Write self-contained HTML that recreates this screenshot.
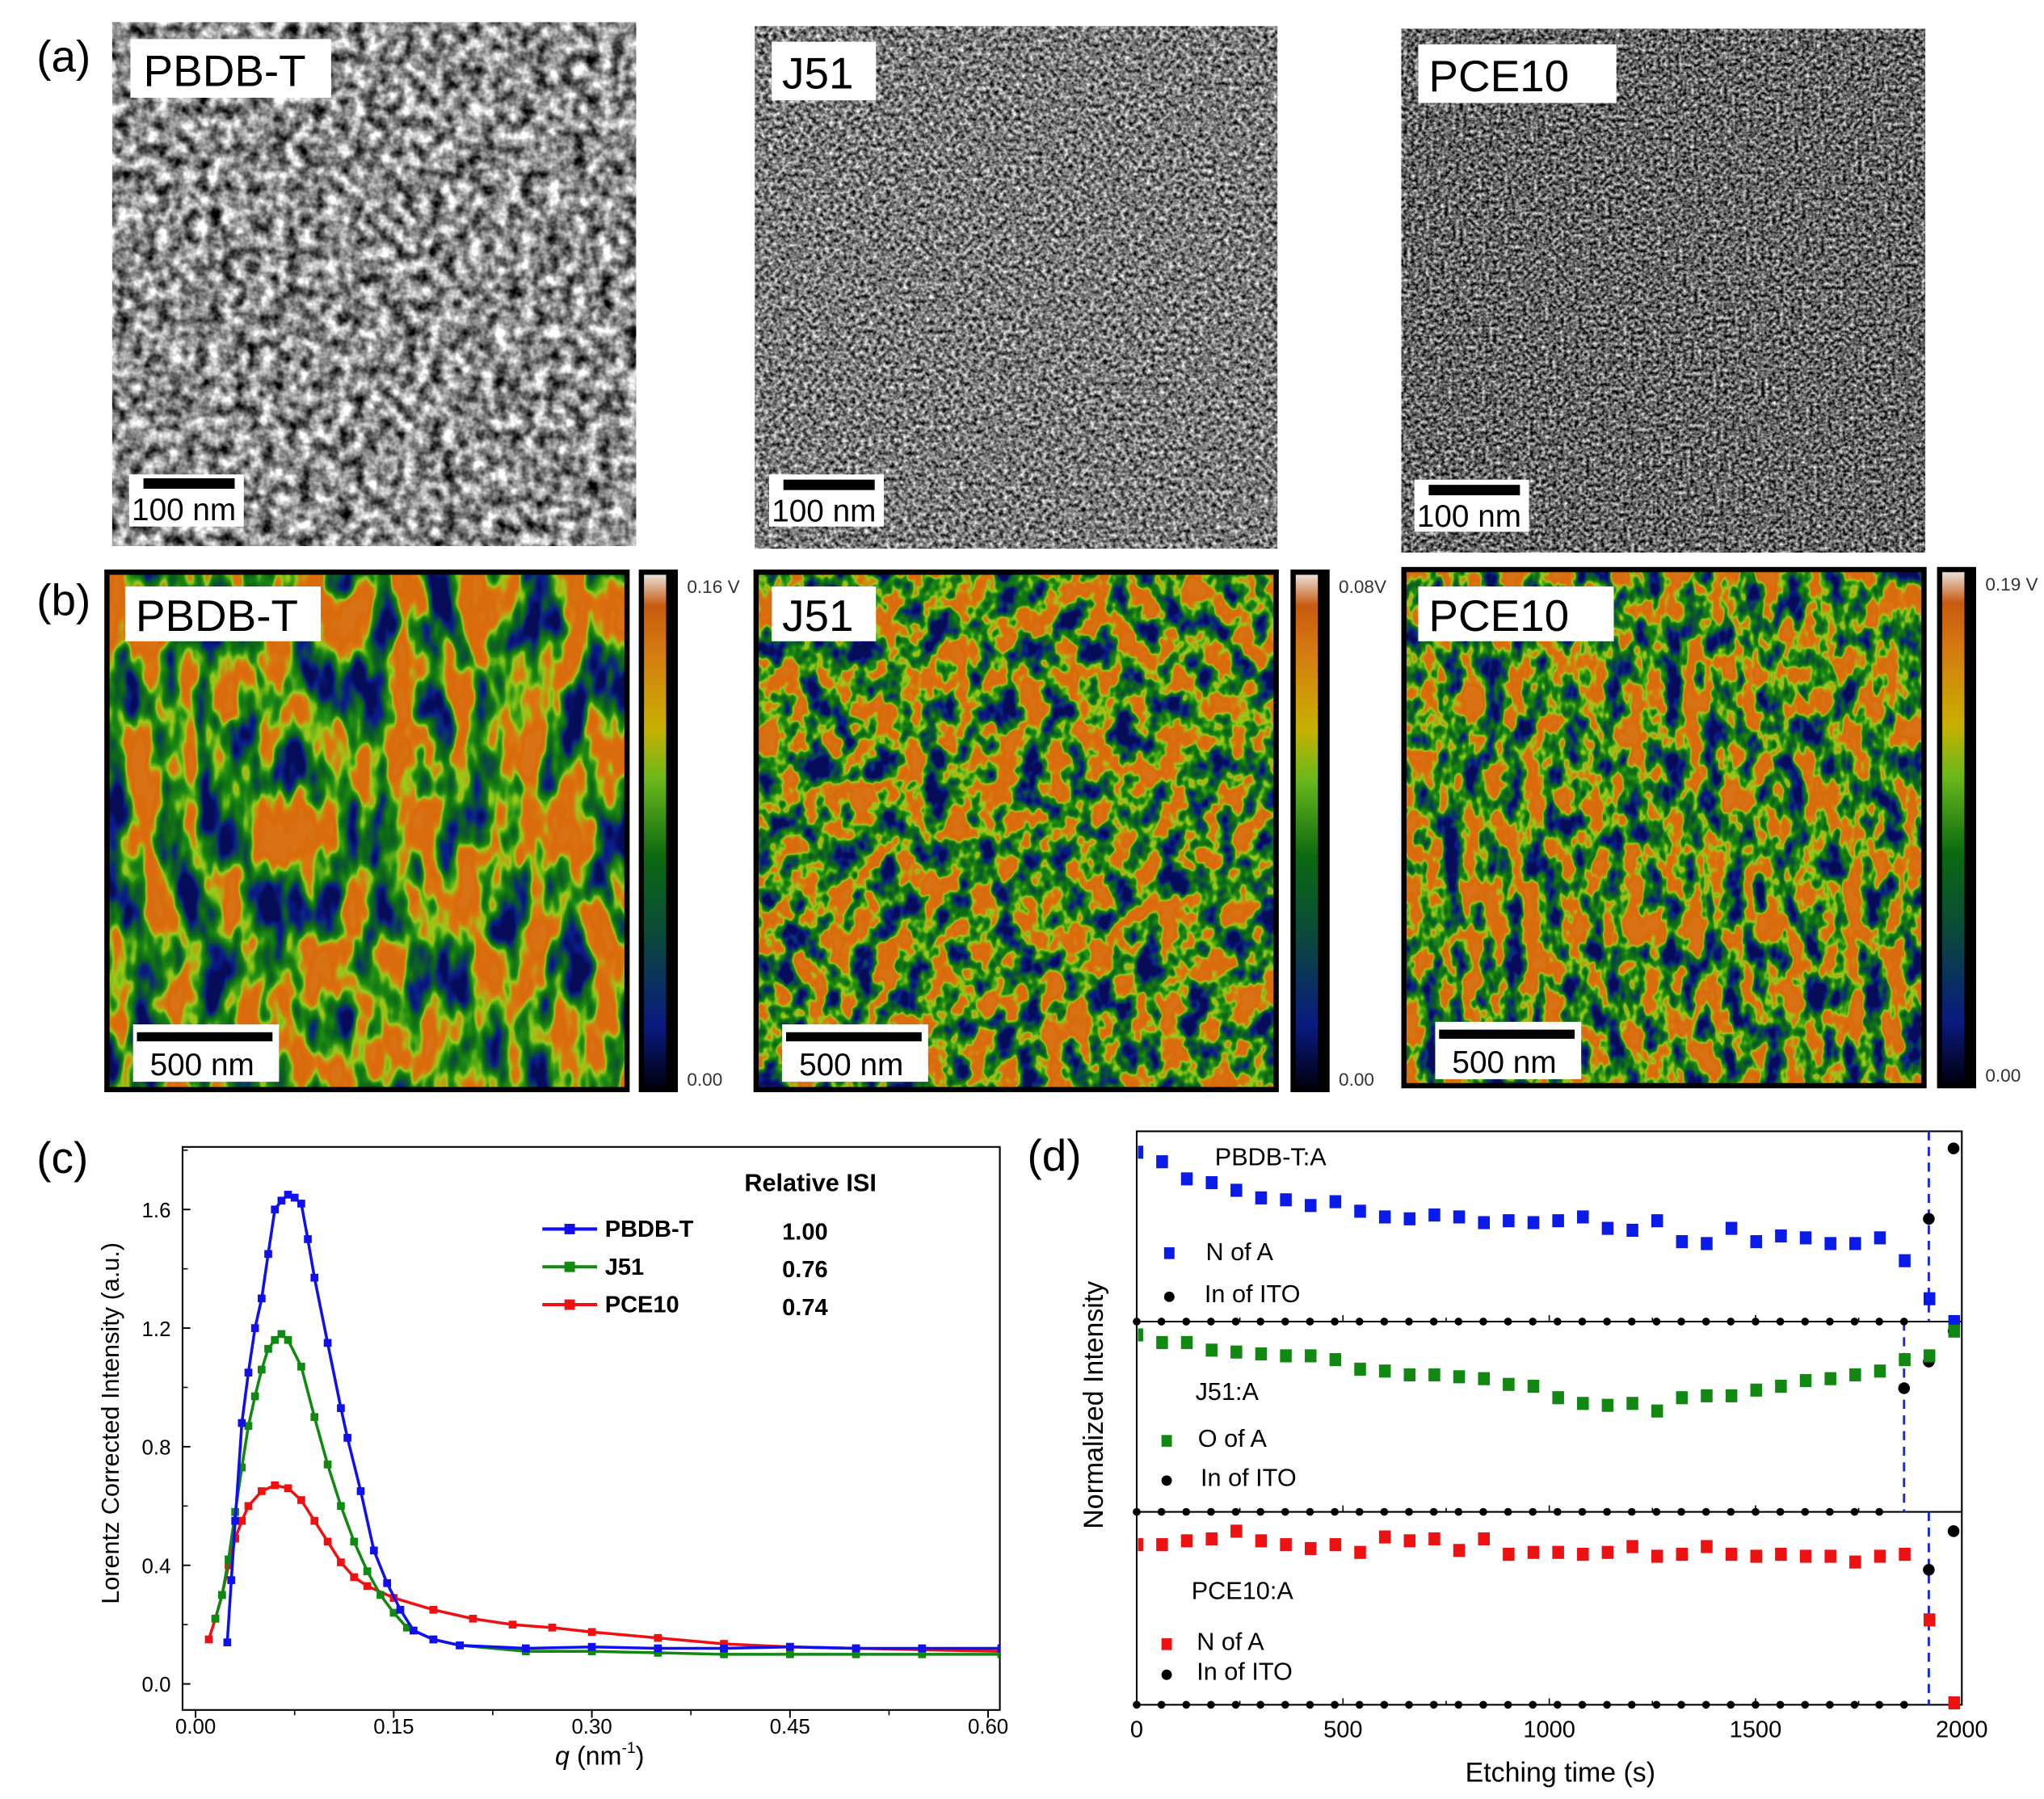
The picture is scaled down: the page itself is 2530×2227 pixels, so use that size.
<!DOCTYPE html>
<html><head><meta charset="utf-8"><style>
html,body{margin:0;padding:0;background:#fff;}
svg{display:block;}
text{font-family:"Liberation Sans",sans-serif;}
</style></head><body>
<svg id="fig" width="2530" height="2227" viewBox="0 0 1568 1380.3" xmlns="http://www.w3.org/2000/svg">
<defs>
<filter id="tem1" x="0" y="0" width="1" height="1" primitiveUnits="userSpaceOnUse" color-interpolation-filters="sRGB">
 <feTurbulence type="fractalNoise" baseFrequency="0.1" numOctaves="3" seed="3"/>
 <feColorMatrix type="matrix" values="1 0 0 0 0  1 0 0 0 0  1 0 0 0 0  0 0 0 0 1"/>
 <feComponentTransfer><feFuncR type="linear" slope="1.7" intercept="-0.3"/><feFuncG type="linear" slope="1.7" intercept="-0.3"/><feFuncB type="linear" slope="1.7" intercept="-0.3"/></feComponentTransfer>
 <feComposite in2="SourceGraphic" operator="in"/>
</filter>
<filter id="tem2" x="0" y="0" width="1" height="1" primitiveUnits="userSpaceOnUse" color-interpolation-filters="sRGB">
 <feTurbulence type="fractalNoise" baseFrequency="0.3" numOctaves="2" seed="7"/>
 <feColorMatrix type="matrix" values="1 0 0 0 0  1 0 0 0 0  1 0 0 0 0  0 0 0 0 1"/>
 <feComponentTransfer><feFuncR type="linear" slope="1.5" intercept="-0.27"/><feFuncG type="linear" slope="1.5" intercept="-0.27"/><feFuncB type="linear" slope="1.5" intercept="-0.27"/></feComponentTransfer>
 <feComposite in2="SourceGraphic" operator="in"/>
</filter>
<filter id="tem3" x="0" y="0" width="1" height="1" primitiveUnits="userSpaceOnUse" color-interpolation-filters="sRGB">
 <feTurbulence type="fractalNoise" baseFrequency="0.35" numOctaves="2" seed="11"/>
 <feColorMatrix type="matrix" values="1 0 0 0 0  1 0 0 0 0  1 0 0 0 0  0 0 0 0 1"/>
 <feComponentTransfer><feFuncR type="linear" slope="1.5" intercept="-0.35"/><feFuncG type="linear" slope="1.5" intercept="-0.35"/><feFuncB type="linear" slope="1.5" intercept="-0.35"/></feComponentTransfer>
 <feComposite in2="SourceGraphic" operator="in"/>
</filter>
<filter id="afm1" x="0" y="0" width="1" height="1" primitiveUnits="userSpaceOnUse" color-interpolation-filters="sRGB">
 <feTurbulence type="fractalNoise" baseFrequency="0.04 0.018" numOctaves="3" seed="5"/>
 <feColorMatrix type="matrix" values="1 0 0 0 0  1 0 0 0 0  1 0 0 0 0  0 0 0 0 1"/>
 <feComponentTransfer><feFuncR type="linear" slope="2.2" intercept="-0.62"/><feFuncG type="linear" slope="2.2" intercept="-0.62"/><feFuncB type="linear" slope="2.2" intercept="-0.62"/></feComponentTransfer>
 <feComponentTransfer>
  <feFuncR type="table" tableValues="0.03 0.04 0.04 0.06 0.12 0.6 0.85 0.86 0.85 0.85"/>
  <feFuncG type="table" tableValues="0.05 0.12 0.3 0.42 0.55 0.8 0.48 0.42 0.42 0.45"/>
  <feFuncB type="table" tableValues="0.35 0.55 0.25 0.08 0.08 0.1 0.06 0.05 0.05 0.08"/>
 </feComponentTransfer>
 <feComposite in2="SourceGraphic" operator="in"/>
</filter>
<filter id="afm2" x="0" y="0" width="1" height="1" primitiveUnits="userSpaceOnUse" color-interpolation-filters="sRGB">
 <feTurbulence type="fractalNoise" baseFrequency="0.055 0.045" numOctaves="3" seed="9"/>
 <feColorMatrix type="matrix" values="1 0 0 0 0  1 0 0 0 0  1 0 0 0 0  0 0 0 0 1"/>
 <feComponentTransfer><feFuncR type="linear" slope="2.2" intercept="-0.62"/><feFuncG type="linear" slope="2.2" intercept="-0.62"/><feFuncB type="linear" slope="2.2" intercept="-0.62"/></feComponentTransfer>
 <feComponentTransfer>
  <feFuncR type="table" tableValues="0.03 0.04 0.04 0.06 0.12 0.6 0.85 0.86 0.85 0.85"/>
  <feFuncG type="table" tableValues="0.05 0.12 0.3 0.42 0.55 0.8 0.48 0.42 0.42 0.45"/>
  <feFuncB type="table" tableValues="0.35 0.55 0.25 0.08 0.08 0.1 0.06 0.05 0.05 0.08"/>
 </feComponentTransfer>
 <feComposite in2="SourceGraphic" operator="in"/>
</filter>
<filter id="afm3" x="0" y="0" width="1" height="1" primitiveUnits="userSpaceOnUse" color-interpolation-filters="sRGB">
 <feTurbulence type="fractalNoise" baseFrequency="0.065 0.04" numOctaves="3" seed="13"/>
 <feColorMatrix type="matrix" values="1 0 0 0 0  1 0 0 0 0  1 0 0 0 0  0 0 0 0 1"/>
 <feComponentTransfer><feFuncR type="linear" slope="2.2" intercept="-0.62"/><feFuncG type="linear" slope="2.2" intercept="-0.62"/><feFuncB type="linear" slope="2.2" intercept="-0.62"/></feComponentTransfer>
 <feComponentTransfer>
  <feFuncR type="table" tableValues="0.03 0.04 0.04 0.06 0.12 0.6 0.85 0.86 0.85 0.85"/>
  <feFuncG type="table" tableValues="0.05 0.12 0.3 0.42 0.55 0.8 0.48 0.42 0.42 0.45"/>
  <feFuncB type="table" tableValues="0.35 0.55 0.25 0.08 0.08 0.1 0.06 0.05 0.05 0.08"/>
 </feComponentTransfer>
 <feComposite in2="SourceGraphic" operator="in"/>
</filter>
<linearGradient id="cbar" x1="0" y1="1" x2="0" y2="0">
 <stop offset="0" stop-color="#000010"/><stop offset="0.12" stop-color="#0a1a80"/><stop offset="0.3" stop-color="#0b4a3a"/>
 <stop offset="0.45" stop-color="#0a6a10"/><stop offset="0.6" stop-color="#6ab81a"/><stop offset="0.7" stop-color="#c8b000"/>
 <stop offset="0.85" stop-color="#d57a10"/><stop offset="0.94" stop-color="#c85a10"/><stop offset="1" stop-color="#e8e0d8"/>
</linearGradient>
<clipPath id="clipC"><rect x="140" y="880" width="627" height="432"/></clipPath>
</defs>

<!-- Panel a -->
<g>
 <text x="28" y="55" font-size="34">(a)</text>
 <rect x="86" y="17" width="402" height="402" fill="#888" filter="url(#tem1)"/>
 <rect x="579" y="20" width="401" height="401" fill="#888" filter="url(#tem2)"/>
 <rect x="1075" y="22" width="402" height="402" fill="#888" filter="url(#tem3)"/>
 <rect x="100" y="30" width="154" height="45" fill="#fff"/><text x="110" y="66" font-size="34">PBDB-T</text>
 <rect x="592" y="32" width="80" height="45" fill="#fff"/><text x="600" y="68" font-size="34">J51</text>
 <rect x="1088" y="34" width="152" height="45" fill="#fff"/><text x="1096" y="70" font-size="34">PCE10</text>
 <g><rect x="99" y="364" width="88" height="40" fill="#fff"/><rect x="110" y="367" width="70" height="8" fill="#000"/><text x="101" y="399" font-size="24">100 nm</text></g>
 <g><rect x="590" y="364" width="88" height="40" fill="#fff"/><rect x="601" y="368" width="70" height="8" fill="#000"/><text x="592" y="400" font-size="24">100 nm</text></g>
 <g><rect x="1085" y="368" width="88" height="40" fill="#fff"/><rect x="1096" y="372" width="70" height="8" fill="#000"/><text x="1087" y="404" font-size="24">100 nm</text></g>
</g>

<!-- Panel b -->
<g>
 <text x="28" y="472" font-size="34">(b)</text>
 <rect x="82" y="439" width="399" height="397" fill="#888" filter="url(#afm1)"/>
 <rect x="82" y="439" width="399" height="397" fill="none" stroke="#000" stroke-width="4"/>
 <rect x="580" y="439" width="399" height="397" fill="#888" filter="url(#afm2)"/>
 <rect x="580" y="439" width="399" height="397" fill="none" stroke="#000" stroke-width="4"/>
 <rect x="1077" y="437" width="399" height="396" fill="#888" filter="url(#afm3)"/>
 <rect x="1077" y="437" width="399" height="396" fill="none" stroke="#000" stroke-width="4"/>
 <rect x="96" y="450" width="150" height="42" fill="#fff"/><text x="104" y="484" font-size="34">PBDB-T</text>
 <rect x="592" y="450" width="80" height="42" fill="#fff"/><text x="600" y="484" font-size="34">J51</text>
 <rect x="1088" y="450" width="150" height="42" fill="#fff"/><text x="1096" y="484" font-size="34">PCE10</text>
 <g><rect x="102" y="786" width="112" height="44" fill="#fff"/><rect x="105" y="792" width="104" height="7" fill="#000"/><text x="115" y="825" font-size="24">500 nm</text></g>
 <g><rect x="600" y="786" width="112" height="44" fill="#fff"/><rect x="603" y="792" width="104" height="7" fill="#000"/><text x="613" y="825" font-size="24">500 nm</text></g>
 <g><rect x="1101" y="784" width="112" height="44" fill="#fff"/><rect x="1104" y="790" width="104" height="7" fill="#000"/><text x="1114" y="823" font-size="24">500 nm</text></g>
 <g id="cbars"></g>
</g>

<!-- Panel c -->
<g id="panelC">
 <text x="28" y="900" font-size="34">(c)</text>
 <rect x="140" y="880" width="627" height="432" fill="none" stroke="#000" stroke-width="1.3"/>
 <text transform="translate(91,1092) rotate(-90)" font-size="19" text-anchor="middle">Lorentz Corrected Intensity (a.u.)</text>
 <text x="460" y="1354" font-size="20" text-anchor="middle"><tspan font-style="italic">q</tspan> (nm<tspan font-size="12" dy="-9">-1</tspan><tspan dy="9">)</tspan></text>
 <text x="571" y="914" font-size="19" font-weight="bold">Relative ISI</text>
</g>

<!-- Panel d -->
<g id="panelD">
 <text x="788" y="898" font-size="34">(d)</text>
 <rect x="872" y="868" width="633" height="440" fill="none" stroke="#000" stroke-width="1.3"/>
 <text transform="translate(846,1078) rotate(-90)" font-size="21" text-anchor="middle">Normalized Intensity</text>
 <text x="1197" y="1367" font-size="21" text-anchor="middle">Etching time (s)</text>
 <text x="932" y="894" font-size="19">PBDB-T:A</text>
 <rect x="893" y="957" width="8" height="9" fill="#0a1ae8"/><text x="925" y="967" font-size="19">N of A</text>
 <circle cx="897" cy="995" r="4" fill="#000"/><text x="924" y="999" font-size="19">In of ITO</text>
 <text x="917" y="1074" font-size="19">J51:A</text>
 <rect x="891" y="1101" width="8" height="9" fill="#118811"/><text x="919" y="1110" font-size="19">O of A</text>
 <circle cx="895" cy="1136" r="4" fill="#000"/><text x="921" y="1140" font-size="19">In of ITO</text>
 <text x="914" y="1227" font-size="19">PCE10:A</text>
 <rect x="891" y="1257" width="8" height="9" fill="#ee1111"/><text x="918" y="1266" font-size="19">N of A</text>
 <circle cx="895" cy="1285" r="4" fill="#000"/><text x="918" y="1289" font-size="19">In of ITO</text>
</g>
</svg>
<script>
// ---------- Panel c data ----------
const qPBDB = [0.024,0.027,0.03,0.035,0.04,0.045,0.05,0.055,0.06,0.065,0.07,0.075,0.08,0.085,0.09,0.1,0.11,0.115,0.125,0.135,0.145,0.155,0.165,0.18,0.2,0.25,0.3,0.35,0.4,0.45,0.5,0.55,0.61];
const vPBDB = [0.14,0.35,0.55,0.88,1.05,1.2,1.3,1.45,1.6,1.63,1.65,1.64,1.62,1.5,1.37,1.15,0.93,0.83,0.65,0.45,0.34,0.25,0.18,0.15,0.13,0.12,0.125,0.12,0.12,0.125,0.12,0.12,0.12];
const qJ51 = [0.015,0.02,0.025,0.03,0.035,0.04,0.045,0.05,0.055,0.06,0.065,0.07,0.08,0.09,0.1,0.11,0.12,0.13,0.14,0.15,0.16,0.18,0.2,0.25,0.3,0.35,0.4,0.45,0.5,0.55,0.61];
const vJ51 = [0.22,0.3,0.42,0.58,0.73,0.87,0.97,1.06,1.13,1.16,1.18,1.16,1.07,0.9,0.74,0.6,0.48,0.38,0.3,0.24,0.19,0.15,0.13,0.11,0.11,0.105,0.1,0.1,0.1,0.1,0.1];
const qPCE = [0.01,0.015,0.02,0.025,0.03,0.035,0.04,0.05,0.06,0.07,0.08,0.09,0.1,0.11,0.12,0.13,0.15,0.18,0.21,0.24,0.27,0.3,0.35,0.4,0.45,0.5,0.55,0.61];
const vPCE = [0.15,0.22,0.3,0.4,0.49,0.55,0.6,0.65,0.67,0.66,0.62,0.55,0.48,0.41,0.36,0.33,0.29,0.25,0.22,0.2,0.19,0.175,0.155,0.135,0.125,0.12,0.115,0.11];
const cXTicks = [0, 0.15, 0.30, 0.45, 0.60];
const cXTickLabels = ["0.00","0.15","0.30","0.45","0.60"];
const cYTicks = [0, 0.4, 0.8, 1.2, 1.6];
const cYTickLabels = ["0.0","0.4","0.8","1.2","1.6"];
const legendNames = ["PBDB-T","J51","PCE10"];
const legendISI = ["1.00","0.76","0.74"];

// ---------- Panel d data ----------
const tTimes = [0,60,120,180,240,300,360,420,480,540,600,660,720,780,840,900,960,1020,1080,1140,1200,1260,1320,1380,1440,1500,1560,1620,1680,1740,1800,1860,1920,1980];
const nPBDB = [0.89,0.84,0.75,0.73,0.69,0.65,0.64,0.61,0.63,0.58,0.55,0.54,0.56,0.55,0.52,0.53,0.52,0.53,0.55,0.49,0.48,0.53,0.42,0.41,0.49,0.42,0.45,0.44,0.41,0.41,0.44,0.32,0.12,0.0];
const inPBDB = [0,0,0,0,0,0,0,0,0,0,0,0,0,0,0,0,0,0,0,0,0,0,0,0,0,0,0,0,0,0,0,0,0.54,0.91];
const oJ51 = [0.93,0.89,0.89,0.85,0.84,0.83,0.82,0.82,0.80,0.75,0.74,0.72,0.72,0.71,0.70,0.67,0.66,0.60,0.57,0.56,0.57,0.53,0.60,0.61,0.61,0.64,0.66,0.69,0.70,0.72,0.74,0.80,0.82,0.95];
const inJ51 = [0,0,0,0,0,0,0,0,0,0,0,0,0,0,0,0,0,0,0,0,0,0,0,0,0,0,0,0,0,0,0,0.65,0.79,0.95];
const nPCE = [0.83,0.83,0.85,0.86,0.90,0.85,0.83,0.81,0.83,0.79,0.87,0.85,0.86,0.80,0.86,0.78,0.79,0.79,0.78,0.79,0.82,0.77,0.78,0.82,0.78,0.77,0.78,0.77,0.77,0.74,0.77,0.78,0.44,0.01];
const inPCE = [0,0,0,0,0,0,0,0,0,0,0,0,0,0,0,0,0,0,0,0,0,0,0,0,0,0,0,0,0,0,0,0,0.70,0.90];
const dXTicks = [0,500,1000,1500,2000];
const dXTickLabels = ["0","500","1000","1500","2000"];
const dDashTimes = [1920,1860,1920];

const NS = "http://www.w3.org/2000/svg";
function mk(tag, attrs, parent){const e=document.createElementNS(NS,tag);for(const k in attrs)e.setAttribute(k,attrs[k]);parent.appendChild(e);return e;}

// colorbars
const cb = document.getElementById('cbars');
const cbDefs = [[490,437,838,"0.16 V"],[990,437,838,"0.08V"],[1486,435,835,"0.19 V"]];
cbDefs.forEach((c,i)=>{
  const r=mk('rect',{x:c[0],y:c[1],width:30,height:c[2]-c[1],fill:'#000'},cb);
  
  
  mk('rect',{x:c[0]+4,y:c[1]+4,width:17,height:c[2]-c[1]-8,fill:'url(#cbar)'},cb);
  for(let k=0;k<14;k++){const yy=c[1]+20+k*(c[2]-c[1]-30)/13;mk('line',{x1:c[0]+21,x2:c[0]+28,y1:yy,y2:yy,stroke:'#000','stroke-width':2},cb);}
  const t1=mk('text',{x:c[0]+37,y:c[1]+18,'font-size':14,fill:'#333'},cb);t1.textContent=c[3];
  
  
  const t2=mk('text',{x:c[0]+37,y:c[2]-5,'font-size':14,fill:'#333'},cb);t2.textContent="0.00";
  
  
});

// Panel c
const gC = document.getElementById('panelC');
const xC = q => 150 + q*(758-150)/0.6;
const yC = v => 1292 - v*(1292-928)/1.6;
cXTicks.forEach((t,i)=>{
  mk('line',{x1:xC(t),x2:xC(t),y1:1312,y2:1318,stroke:'#000','stroke-width':1.2},gC);
  if(i<cXTicks.length-1) mk('line',{x1:xC(t+0.075),x2:xC(t+0.075),y1:1312,y2:1316,stroke:'#000','stroke-width':1},gC);
  const tx=mk('text',{x:xC(t),y:1330,'font-size':16,'text-anchor':'middle'},gC);tx.textContent=cXTickLabels[i];
  
  
});
cYTicks.forEach((t,i)=>{
  mk('line',{x1:140,x2:146,y1:yC(t),y2:yC(t),stroke:'#000','stroke-width':1.2},gC);
  mk('line',{x1:140,x2:144,y1:yC(t+0.2),y2:yC(t+0.2),stroke:'#000','stroke-width':1},gC);
  const tx=mk('text',{x:131,y:yC(t)+6,'font-size':16,'text-anchor':'end'},gC);tx.textContent=cYTickLabels[i];
  
  
});
const seriesC=[[qPCE,vPCE,'#ee1111','curve-pce10'],[qJ51,vJ51,'#118811','curve-j51'],[qPBDB,vPBDB,'#1010ee','curve-pbdbt']];
seriesC.forEach(s=>{
  const g=mk('g',{'clip-path':'url(#clipC)'},gC);
  
  
  const d=s[0].map((q,i)=>(i?'L':'M')+xC(q).toFixed(1)+','+yC(s[1][i]).toFixed(1)).join('');
  mk('path',{d:d,fill:'none',stroke:s[2],'stroke-width':2.2,'stroke-linejoin':'round'},g);
  s[0].forEach((q,i)=>{mk('rect',{x:xC(q)-3,y:yC(s[1][i])-3,width:6,height:6,fill:s[2]},g);});
});
const legColors=['#1010ee','#118811','#ee1111'];
legendNames.forEach((n,i)=>{
  const y=943+i*29;
  const g=mk('g',{},gC);
  
  
  mk('line',{x1:416,x2:458,y1:y,y2:y,stroke:legColors[i],'stroke-width':2.5},g);
  mk('rect',{x:433,y:y-4,width:8,height:8,fill:legColors[i]},g);
  const t=mk('text',{x:464,y:y+6,'font-size':18,'font-weight':'bold'},g);t.textContent=n;
  const v=mk('text',{x:600,y:y+8,'font-size':18,'font-weight':'bold'},g);v.textContent=legendISI[i];
});

// Panel d
const gD=document.getElementById('panelD');
const xD=t=>872+t*(1505-872)/2000;
const subs=[[868,1014],[1014,1160],[1160,1308]];
const yD=(v,k)=>subs[k][1]-v*(subs[k][1]-subs[k][0]);
mk('line',{x1:872,x2:1505,y1:1014,y2:1014,stroke:'#000','stroke-width':1.3},gD);
mk('line',{x1:872,x2:1505,y1:1160,y2:1160,stroke:'#000','stroke-width':1.3},gD);
dXTicks.forEach((t,i)=>{
  subs.forEach(s=>{mk('line',{x1:xD(t),x2:xD(t),y1:s[1],y2:s[1]-5,stroke:'#000','stroke-width':1},gD);
    if(i<dXTicks.length-1) mk('line',{x1:xD(t+250),x2:xD(t+250),y1:s[1],y2:s[1]-3,stroke:'#000','stroke-width':1},gD);});
  const tx=mk('text',{x:xD(t),y:1333,'font-size':18,'text-anchor':'middle'},gD);tx.textContent=dXTickLabels[i];
  
  
});
dDashTimes.forEach((t,k)=>{
  const l=mk('line',{x1:xD(t),x2:xD(t),y1:subs[k][0],y2:subs[k][1],stroke:'#1a2ad8','stroke-width':1.8,'stroke-dasharray':'7,5'},gD);
  
  
});
const seriesD=[[nPBDB,0,'#0a1ae8','n-pbdbt'],[oJ51,1,'#118811','o-j51'],[nPCE,2,'#ee1111','n-pce10']];
const inD=[[inPBDB,0,'in-pbdbt'],[inJ51,1,'in-j51'],[inPCE,2,'in-pce10']];
inD.forEach(s=>{
  const g=mk('g',{},gD);
  
  
  tTimes.forEach((t,i)=>{const v=s[0][i];mk('circle',{cx:xD(t),cy:yD(v,s[1]),r:v>0?4.5:3,fill:'#000'},g);});
});
seriesD.forEach(s=>{
  const g=mk('g',{},gD);
  
  
  tTimes.forEach((t,i)=>{
    let x=xD(t)-4, w=9;
    if(x<873){w=x+w-873;x=873;}
    if(x+w>1505){w=1505-x;}
    mk('rect',{x:x,y:yD(s[0][i],s[1])-5,width:w,height:10,fill:s[2]},g);});
});
</script>
</body></html>
